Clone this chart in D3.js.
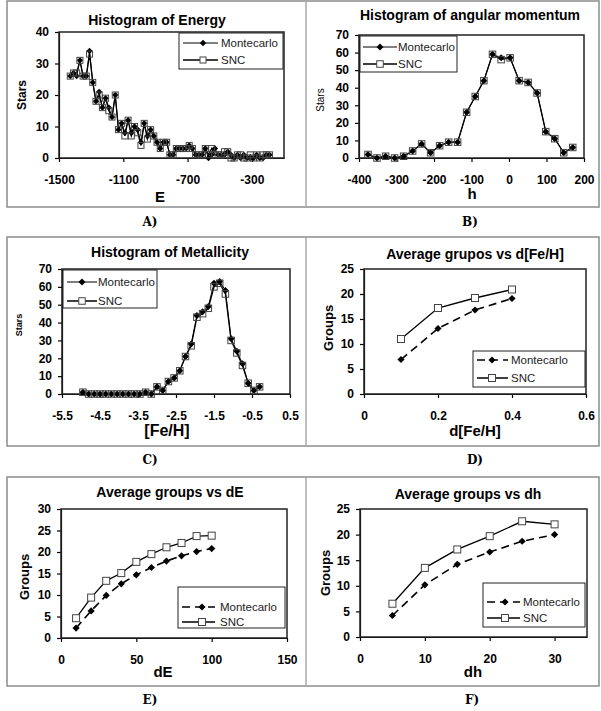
<!DOCTYPE html>
<html lang="en">
<head>
<meta charset="utf-8">
<title>Histograms and average groups</title>
<script src="https://d3js.org/d3.v7.min.js"></script>
<style>
  body { margin: 0; background: #fff; }
  svg { display: block; font-family: "Liberation Sans", Arial, sans-serif; }
  .frame { fill: none; stroke: #8c8c8c; stroke-width: 1.5; }
  .plotbox { fill: none; stroke: #222; stroke-width: 1.5; }
  .axis path, .axis line { stroke: #000; stroke-width: 1.2; }
  .axis text { font-size: 12px; font-weight: bold; fill: #000; font-family: "Liberation Sans", Arial, sans-serif; }
  .title { font-size: 14px; font-weight: bold; }
  .xlab { font-size: 15px; font-weight: bold; }
  .legend-box { fill: #fff; stroke: #222; stroke-width: 1; }
  .legend text { font-size: 11.5px; fill: #222; }
  .caption { font-family: "DejaVu Serif", serif; font-size: 12px; font-weight: bold; }
</style>
</head>
<body>
<script>
// ---- data ----
var energyBins = [-1430,-1410,-1390,-1370,-1350,-1330,-1310,-1290,-1270,-1250,-1230,-1210,-1190,-1170,-1150,-1130,-1110,-1090,-1070,-1050,-1030,-1010,-990,-970,-950,-930,-910,-890,-870,-850,-830,-810,-790,-770,-750,-730,-710,-690,-670,-650,-630,-610,-590,-570,-550,-530,-510,-490,-470,-450,-430,-410,-390,-370,-350,-330,-310,-290,-270,-250,-230,-210,-190];
var energyMonte = [26,27,26,31,26,26,34,24,18,21,16,19,16,13,20,9,11,8,12,8,10,9,5,11,7,9,7,5,3,5,5,1,1,3,3,3,3,4,3,1,1,1,3,0,1,3,1,1,1,2,1,0,1,0,1,0,0,0,1,0,0,1,1];
var energySnc   = [26,27,27,31,26,26,33,24,18,20,16,19,15,13,20,9,11,7,12,7,10,8,4,11,6,9,7,5,3,5,5,1,1,3,3,3,3,4,3,1,1,1,3,1,3,1,1,1,2,2,0,0,1,1,0,0,1,0,1,0,1,1,1];
var energyTicks = [-1500,-1100,-700,-300];

var hBins  = [-376,-352,-329,-305,-281,-257,-233,-209,-185,-161,-137,-113,-90,-67,-44,-21,3,27,51,75,98,122,146,170];
var hMonte = [2,0,1,0,1,4,8,3,7,9,9,26,35,44,59,57,57,44,43,37,15,11,3,6];
var hSnc   = [2,0,1,0,1,4,8,3,7,9,9,26,35,44,59,56,57,44,43,37,15,11,3,6];
var hTicks = [-400,-300,-200,-100,0,100,200];

var fehBins  = [-4.95,-4.8,-4.65,-4.5,-4.35,-4.2,-4.05,-3.9,-3.75,-3.6,-3.45,-3.3,-3.15,-3.0,-2.85,-2.7,-2.55,-2.4,-2.25,-2.1,-1.95,-1.8,-1.65,-1.5,-1.35,-1.2,-1.05,-0.9,-0.75,-0.6,-0.45,-0.3];
var fehMonte = [1,0,0,0,0,0,0,0,0,0,0,1,0,4,2,7,9,13,21,28,44,46,49,62,63,58,31,24,17,6,2,4];
var fehSnc   = [1,0,0,0,0,0,0,0,0,0,0,1,0,4,2,7,9,13,21,27,43,45,48,60,62,56,30,23,16,6,2,4];
var fehTicks = [-5.5,-4.5,-3.5,-2.5,-1.5,-0.5,0.5];

var dFeh      = [0.1,0.2,0.3,0.4];
var dFehMonte = [6.9,13.1,16.8,19.1];
var dFehSnc   = [11.0,17.2,19.2,20.9];
var dFehTicks = [0,0.2,0.4,0.6];

var dE      = [10,20,30,40,50,60,70,80,90,100];
var dEMonte = [2.3,6.3,9.9,12.6,14.7,16.4,17.9,19.1,20.1,20.8];
var dESnc   = [4.6,9.4,13.3,15.1,17.7,19.5,21.1,22.1,23.7,23.8];
var dETicks = [0,50,100,150];

var dh      = [5,10,15,20,25,30];
var dhMonte = [4.2,10.2,14.2,16.6,18.7,20.0];
var dhSnc   = [6.5,13.5,17.1,19.7,22.6,22.0];
var dhTicks = [0,10,20,30];

var W = 601, H = 711;
var svg = d3.select("body").append("svg").attr("width", W).attr("height", H);

// outer frames of the three rows
[[1, 207], [237, 446], [477, 686]].forEach(function (r) {
  svg.append("rect").attr("class", "frame")
     .attr("x", 7).attr("y", r[0]).attr("width", 592).attr("height", r[1] - r[0]);
  svg.append("line").attr("x1", 306).attr("x2", 306).attr("y1", r[0]).attr("y2", r[1])
     .attr("stroke", "#a8a8a8").attr("stroke-width", 1.5);
});

function diamond(r) {
  return "M0," + (-r) + "L" + r + ",0L0," + r + "L" + (-r) + ",0Z";
}

function panel(p) {
  var g = svg.append("g");
  var x = d3.scaleLinear().domain(p.xDomain).range([p.x0, p.x1]);
  var y = d3.scaleLinear().domain(p.yDomain).range([p.y1, p.y0]);
  var fmt = function (d) { return String(d); };

  g.append("g").attr("class", "axis").attr("transform", "translate(0," + p.y1 + ")")
   .call(d3.axisBottom(x).tickValues(p.xTicks).tickSize(4).tickSizeOuter(0).tickPadding(13).tickFormat(fmt));
  g.append("g").attr("class", "axis").attr("transform", "translate(" + p.x0 + ",0)")
   .call(d3.axisLeft(y).tickValues(d3.range(p.yDomain[0], p.yDomain[1] + 0.001, p.yStep))
         .tickSize(4).tickSizeOuter(0).tickPadding(6).tickFormat(fmt));

  g.append("rect").attr("class", "plotbox")
   .attr("x", p.x0).attr("y", p.y0).attr("width", p.x1 - p.x0).attr("height", p.y1 - p.y0);

  var mc = p.xs.map(function (d, i) { return [d, p.mc[i]]; });
  var snc = p.xs.map(function (d, i) { return [d, p.snc[i]]; });
  var line = d3.line().x(function (d) { return x(d[0]); }).y(function (d) { return y(d[1]); });

  g.append("path").datum(mc).attr("d", line).attr("fill", "none").attr("stroke", "#000")
   .attr("stroke-width", p.dashed ? 1.6 : 1).attr("stroke-dasharray", p.dashed ? "8,5" : null);
  g.append("path").datum(snc).attr("d", line).attr("fill", "none").attr("stroke", "#000")
   .attr("stroke-width", 1.3);

  g.selectAll(".mc").data(mc).enter().append("path")
   .attr("d", diamond(p.mr))
   .attr("transform", function (d) { return "translate(" + x(d[0]) + "," + y(d[1]) + ")"; })
   .attr("fill", "#000");
  g.selectAll(".snc").data(snc).enter().append("rect")
   .attr("x", function (d) { return x(d[0]) - p.sq / 2; })
   .attr("y", function (d) { return y(d[1]) - p.sq / 2; })
   .attr("width", p.sq).attr("height", p.sq)
   .attr("fill", p.sqFill).attr("stroke", "#444").attr("stroke-width", 1);

  // title and axis labels
  g.append("text").attr("class", "title").attr("x", p.title[1]).attr("y", p.title[2])
   .attr("text-anchor", "middle").text(p.title[0]);
  g.append("text").attr("class", "xlab").attr("x", p.xlab[1]).attr("y", p.xlab[2])
   .attr("text-anchor", "middle").style("font-size", p.xlab[3] + "px").text(p.xlab[0]);
  g.append("text").attr("transform", "translate(" + p.ylab[1] + "," + p.ylab[2] + ") rotate(-90)")
   .attr("text-anchor", "middle").attr("dy", "0.35em")
   .style("font-size", p.ylab[3] + "px").style("font-weight", p.ylab[4])
   .text(p.ylab[0]);

  // legend
  var L = p.legend;
  var lg = g.append("g").attr("class", "legend");
  lg.append("rect").attr("class", "legend-box")
    .attr("x", L.x0).attr("y", L.y0).attr("width", L.x1 - L.x0).attr("height", L.y1 - L.y0);
  lg.append("line").attr("x1", L.lx0).attr("x2", L.lx1).attr("y1", L.r1).attr("y2", L.r1)
    .attr("stroke", "#000").attr("stroke-width", p.dashed ? 1.6 : 1)
    .attr("stroke-dasharray", p.dashed ? "8,5" : null);
  lg.append("path").attr("d", diamond(p.mr))
    .attr("transform", "translate(" + L.mx + "," + L.r1 + ")").attr("fill", "#000");
  lg.append("text").attr("x", L.tx).attr("y", L.r1).attr("dy", "0.35em").text("Montecarlo");
  lg.append("line").attr("x1", L.lx0).attr("x2", L.lx1).attr("y1", L.r2).attr("y2", L.r2)
    .attr("stroke", "#000").attr("stroke-width", 1.5);
  lg.append("rect").attr("x", L.mx - p.sq / 2).attr("y", L.r2 - p.sq / 2)
    .attr("width", p.sq).attr("height", p.sq).attr("fill", "#fff").attr("stroke", "#444");
  lg.append("text").attr("x", L.tx).attr("y", L.r2).attr("dy", "0.35em").text("SNC");

  svg.append("text").attr("class", "caption").attr("x", p.caption[1]).attr("y", p.caption[2])
   .attr("text-anchor", "middle").attr("dy", "0.35em").text(p.caption[0]);
}

panel({
  x0: 59, x1: 284, y0: 32, y1: 158,
  xDomain: [-1500, -100], xTicks: energyTicks, yDomain: [0, 40], yStep: 10,
  xs: energyBins, mc: energyMonte, snc: energySnc,
  mr: 3.2, sq: 6, sqFill: "none", dashed: false,
  title: ["Histogram of Energy", 157, 25],
  xlab: ["E", 160, 202, 15], ylab: ["Stars", 22, 95, 12, "bold"],
  legend: { x0: 179, y0: 33, x1: 283, y1: 69, r1: 43, r2: 60, lx0: 183, lx1: 218, mx: 203, tx: 221 },
  caption: ["A)", 150, 222]
});

panel({
  x0: 359, x1: 584, y0: 35, y1: 158,
  xDomain: [-400, 200], xTicks: hTicks, yDomain: [0, 70], yStep: 10,
  xs: hBins, mc: hMonte, snc: hSnc,
  mr: 3.5, sq: 6.5, sqFill: "none", dashed: false,
  title: ["Histogram of angular momentum", 470, 20],
  xlab: ["h", 472, 199, 15], ylab: ["Stars", 320, 100, 10, "normal"],
  legend: { x0: 360, y0: 36, x1: 457, y1: 72, r1: 47, r2: 64, lx0: 363, lx1: 397, mx: 380, tx: 398 },
  caption: ["B)", 470, 222]
});

panel({
  x0: 62, x1: 290, y0: 269, y1: 394,
  xDomain: [-5.5, 0.5], xTicks: fehTicks, yDomain: [0, 70], yStep: 10,
  xs: fehBins, mc: fehMonte, snc: fehSnc,
  mr: 3.5, sq: 6.5, sqFill: "none", dashed: false,
  title: ["Histogram of Metallicity", 170, 257],
  xlab: ["[Fe/H]", 167, 436, 16], ylab: ["Stars", 19, 325, 9, "bold"],
  legend: { x0: 63, y0: 270, x1: 157, y1: 308, r1: 282, r2: 301, lx0: 67, lx1: 97, mx: 82, tx: 98 },
  caption: ["C)", 150, 460]
});

panel({
  x0: 364, x1: 586, y0: 269, y1: 394,
  xDomain: [0, 0.6], xTicks: dFehTicks, yDomain: [0, 25], yStep: 5,
  xs: dFeh, mc: dFehMonte, snc: dFehSnc,
  mr: 3.6, sq: 7, sqFill: "#fff", dashed: true,
  title: ["Average grupos vs d[Fe/H]", 475, 259],
  xlab: ["d[Fe/H]", 475, 436, 15], ylab: ["Groups", 328, 328, 13, "bold"],
  legend: { x0: 473, y0: 351, x1: 585, y1: 387, r1: 360, r2: 378, lx0: 477, lx1: 508, mx: 492, tx: 511 },
  caption: ["D)", 475, 460]
});

panel({
  x0: 61, x1: 287, y0: 509, y1: 638,
  xDomain: [0, 150], xTicks: dETicks, yDomain: [0, 30], yStep: 5,
  xs: dE, mc: dEMonte, snc: dESnc,
  mr: 3.6, sq: 7, sqFill: "#fff", dashed: true,
  title: ["Average groups vs dE", 170, 497],
  xlab: ["dE", 163, 677, 15], ylab: ["Groups", 24, 577, 13, "bold"],
  legend: { x0: 178, y0: 587, x1: 285, y1: 628, r1: 607, r2: 622, lx0: 182, lx1: 215, mx: 202, tx: 220 },
  caption: ["E)", 150, 700]
});

panel({
  x0: 360, x1: 587, y0: 509, y1: 637,
  xDomain: [0, 35], xTicks: dhTicks, yDomain: [0, 25], yStep: 5,
  xs: dh, mc: dhMonte, snc: dhSnc,
  mr: 3.6, sq: 7, sqFill: "#fff", dashed: true,
  title: ["Average groups  vs dh", 468, 499],
  xlab: ["dh", 473, 677, 15], ylab: ["Groups", 325, 573, 13, "bold"],
  legend: { x0: 483, y0: 583, x1: 585, y1: 627, r1: 602, r2: 618, lx0: 487, lx1: 520, mx: 505, tx: 523 },
  caption: ["F)", 472, 700]
});
</script>
</body>
</html>
